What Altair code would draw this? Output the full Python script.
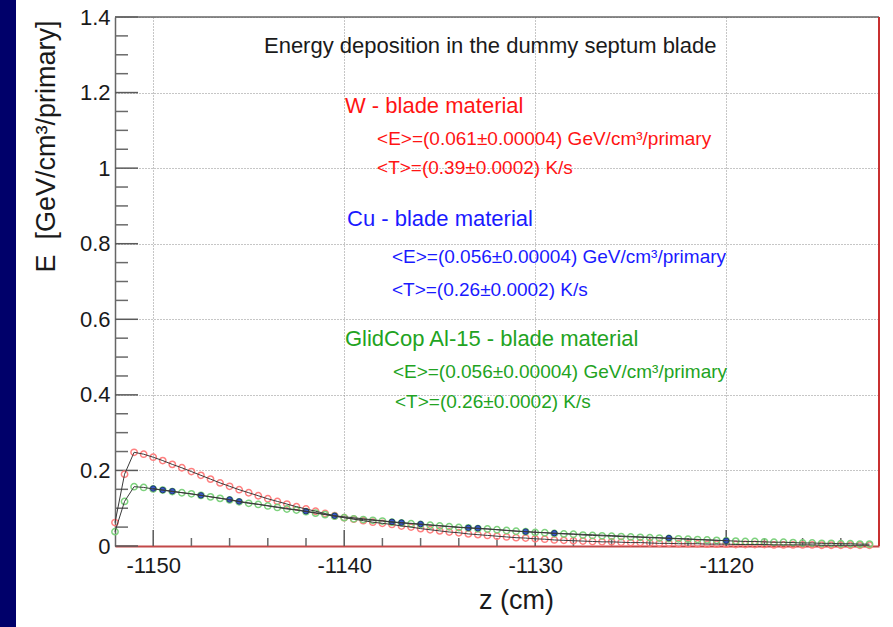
import altair as alt
import pandas as pd

# ---------------- data ----------------
z = [-1152, -1151.5, -1151, -1150.5, -1150, -1149.5, -1149, -1148.5, -1148, -1147.5,
     -1147, -1146.5, -1146, -1145.5, -1145, -1144.5, -1144, -1143.5, -1143, -1142.5,
     -1142, -1141.5, -1141, -1140.5, -1140, -1139.5, -1139, -1138.5, -1138, -1137.5,
     -1137, -1136.5, -1136, -1135.5, -1135, -1134.5, -1134, -1133.5, -1133, -1132.5,
     -1132, -1131.5, -1131, -1130.5, -1130, -1129.5, -1129, -1128.5, -1128, -1127.5,
     -1127, -1126.5, -1126, -1125.5, -1125, -1124.5, -1124, -1123.5, -1123, -1122.5,
     -1122, -1121.5, -1121, -1120.5, -1120, -1119.5, -1119, -1118.5, -1118, -1117.5,
     -1117, -1116.5, -1116, -1115.5, -1115, -1114.5, -1114, -1113.5, -1113, -1112.5]

e_w = [0.062, 0.190, 0.248, 0.243, 0.235, 0.226, 0.216, 0.207, 0.197, 0.187,
       0.177, 0.167, 0.158, 0.149, 0.141, 0.133, 0.125, 0.118, 0.111, 0.104,
       0.098, 0.092, 0.086, 0.080, 0.075, 0.071, 0.067, 0.063, 0.060, 0.057,
       0.053, 0.050, 0.046, 0.043, 0.040, 0.037, 0.035, 0.032, 0.030, 0.028,
       0.026, 0.024, 0.022, 0.021, 0.019, 0.018, 0.016, 0.015, 0.014, 0.013,
       0.012, 0.011, 0.011, 0.010, 0.009, 0.009, 0.008, 0.007, 0.007, 0.006,
       0.006, 0.006, 0.005, 0.005, 0.005, 0.004, 0.004, 0.004, 0.004, 0.003,
       0.003, 0.003, 0.003, 0.003, 0.002, 0.002, 0.002, 0.002, 0.002, 0.002]

e_glidcop = [0.038, 0.118, 0.157, 0.155, 0.151, 0.148, 0.144, 0.141, 0.138, 0.134,
             0.130, 0.126, 0.122, 0.117, 0.113, 0.110, 0.106, 0.102, 0.098, 0.095,
             0.091, 0.087, 0.083, 0.079, 0.075, 0.072, 0.070, 0.068, 0.066, 0.063,
             0.061, 0.059, 0.057, 0.055, 0.053, 0.051, 0.049, 0.048, 0.046, 0.045,
             0.043, 0.041, 0.039, 0.038, 0.036, 0.035, 0.033, 0.032, 0.031, 0.029,
             0.028, 0.027, 0.026, 0.025, 0.024, 0.023, 0.022, 0.021, 0.020, 0.019,
             0.018, 0.017, 0.016, 0.015, 0.014, 0.013, 0.012, 0.012, 0.011, 0.010,
             0.010, 0.009, 0.008, 0.008, 0.007, 0.007, 0.006, 0.006, 0.005, 0.005]

z_cu = [-1150, -1149.5, -1149, -1147.5, -1146, -1145.5, -1142, -1140.5, -1137.5,
        -1137, -1136, -1133.5, -1133, -1130.5, -1129, -1123, -1120]
e_cu = [0.152, 0.148, 0.145, 0.134, 0.123, 0.118, 0.092, 0.080, 0.064,
        0.062, 0.058, 0.048, 0.047, 0.038, 0.034, 0.021, 0.014]

x_major = [-1150, -1140, -1130, -1120]
x_minor = [-1148, -1146, -1144, -1142, -1138, -1136, -1134, -1132,
           -1128, -1126, -1124, -1122, -1118, -1116, -1114]
y_major = [0, 0.2, 0.4, 0.6, 0.8, 1, 1.2, 1.4]
y_minor = [0.05, 0.1, 0.15, 0.25, 0.3, 0.35, 0.45, 0.5, 0.55, 0.65, 0.7, 0.75,
           0.85, 0.9, 0.95, 1.05, 1.1, 1.15, 1.25, 1.3, 1.35]

title_text = ["Energy deposition in the dummy septum blade"]
title_z = [-1144.2]
title_e = [1.322]

head_text = ["W - blade material", "Cu - blade material", "GlidCop Al-15 - blade material"]
head_z = [-1139.96, -1139.85, -1139.96]
head_e = [1.165, 0.865, 0.548]
head_col = ["#ff1414", "#1a1aff", "#22a322"]

info_text = ["<E>=(0.061\u00b10.00004) GeV/cm\u00b3/primary", "<T>=(0.39\u00b10.0002) K/s",
             "<E>=(0.056\u00b10.00004) GeV/cm\u00b3/primary", "<T>=(0.26\u00b10.0002) K/s",
             "<E>=(0.056\u00b10.00004) GeV/cm\u00b3/primary", "<T>=(0.26\u00b10.0002) K/s"]
info_z = [-1138.28, -1138.28, -1137.5, -1137.5, -1137.45, -1137.34]
info_e = [1.077, 1.000, 0.765, 0.6775, 0.4605, 0.381]
info_col = ["#ff1414", "#ff1414", "#1a1aff", "#1a1aff", "#22a322", "#22a322"]

# ---------------- chart ----------------
FONT = "Liberation Sans"
W, H = 764, 529
TXT = "#1a1a1a"

xscale = alt.Scale(domain=[-1152, -1112], nice=False, zero=False)
yscale = alt.Scale(domain=[0, 1.4], nice=False, zero=True)

xaxis = alt.Axis(values=x_major, title="z (cm)", labelExpr="'' + datum.value",
                 ticks=False, domainColor="#c24848", domainWidth=2,
                 grid=True, gridDash=[1, 2], gridColor="#8c8c8c", gridWidth=1,
                 labelFont=FONT, labelFontSize=22, labelColor=TXT, labelPadding=9,
                 labelOverlap=False, labelFlush=False,
                 titleFont=FONT, titleFontSize=27, titleFontWeight="normal", titleColor=TXT,
                 titleAlign="center", titleBaseline="alphabetic", titleX=401, titleY=62)
yaxis = alt.Axis(values=y_major, title="E\u00a0 [GeV/cm\u00b3/primary]", labelExpr="'' + datum.value",
                 ticks=False, domainColor="#666666", domainWidth=1.5,
                 grid=True, gridDash=[1, 2], gridColor="#8c8c8c", gridWidth=1,
                 labelFont=FONT, labelFontSize=22, labelColor=TXT, labelPadding=5,
                 labelOverlap=False,
                 titleFont=FONT, titleFontSize=27, titleFontWeight="normal", titleColor=TXT,
                 titleAngle=270, titleAlign="right", titleBaseline="alphabetic",
                 titleX=-61, titleY=3)

X = alt.X("z:Q", scale=xscale, axis=xaxis)
Y = alt.Y("e:Q", scale=yscale, axis=yaxis)

df_w = pd.DataFrame({"z": z, "e": e_w})
df_g = pd.DataFrame({"z": z, "e": e_glidcop})
df_c = pd.DataFrame({"z": z_cu, "e": e_cu})
one = pd.DataFrame({"a": [0]})

navy = alt.Chart(one).mark_rect(color="#00006a", clip=False).encode(
    x=alt.value(-115), x2=alt.value(-99), y=alt.value(-17), y2=alt.value(H + 81))

xt_major = alt.Chart(pd.DataFrame({"z": x_major})).mark_rule(color="#5a5a5a", strokeWidth=1.5).encode(
    x=X, y=alt.value(H), y2=alt.value(H - 16))
xt_minor = alt.Chart(pd.DataFrame({"z": x_minor})).mark_rule(color="#6a6a6a", strokeWidth=1.5).encode(
    x=X, y=alt.value(H), y2=alt.value(H - 8))
yt_major = alt.Chart(pd.DataFrame({"e": y_major})).mark_rule(color="#5a5a5a", strokeWidth=1.5).encode(
    y=Y, x=alt.value(0), x2=alt.value(23))
yt_minor = alt.Chart(pd.DataFrame({"e": y_minor})).mark_rule(color="#6a6a6a", strokeWidth=1.5).encode(
    y=Y, x=alt.value(0), x2=alt.value(13))

def pts(df, color, filled=False, stroke=None, size=40):
    kw = dict(shape="circle", size=size, filled=filled, strokeWidth=1.5, color=color, opacity=0.95)
    if stroke:
        kw["stroke"] = stroke
        kw["strokeWidth"] = 1
    return alt.Chart(df).mark_point(**kw).encode(x=X, y=Y)

def line(df):
    return alt.Chart(df).mark_line(color="#3a3a3a", strokeWidth=1).encode(x=X, y=Y, order="z:Q")

red_pts = pts(df_w, "#ff7a7a")
green_pts = pts(df_g, "#78d078")
blue_pts = pts(df_c, "#2f55cc", filled=True, stroke="#1a2a70", size=30)

top_frame = alt.Chart(one).mark_rule(color="#666666", strokeWidth=1.5).encode(
    x=alt.value(0), x2=alt.value(W), y=alt.value(0))
right_frame = alt.Chart(one).mark_rule(color="#c83030", strokeWidth=2).encode(
    x=alt.value(W), y=alt.value(0), y2=alt.value(H))

title_layer = alt.Chart(pd.DataFrame({"z": title_z, "e": title_e, "t": title_text})).mark_text(
    align="left", baseline="middle", font=FONT, fontSize=22, color=TXT).encode(x=X, y=Y, text="t:N")
head_layer = alt.Chart(pd.DataFrame({"z": head_z, "e": head_e, "t": head_text, "c": head_col})).mark_text(
    align="left", baseline="middle", font=FONT, fontSize=22).encode(
    x=X, y=Y, text="t:N", color=alt.Color("c:N", scale=None))
info_layer = alt.Chart(pd.DataFrame({"z": info_z, "e": info_e, "t": info_text, "c": info_col})).mark_text(
    align="left", baseline="middle", font=FONT, fontSize=19).encode(
    x=X, y=Y, text="t:N", color=alt.Color("c:N", scale=None))

chart = alt.layer(
    navy, xt_major, xt_minor, yt_major, yt_minor,
    red_pts, green_pts, blue_pts,
    line(df_w), line(df_g), line(df_c),
    top_frame, right_frame,
    title_layer, head_layer, info_layer,
).properties(
    width=W, height=H,
    autosize=alt.AutoSizeParams(type="none"),
    padding={"left": 115, "top": 17, "right": 14, "bottom": 81},
    background="white",
).configure_view(stroke=None)

chart.save("out.html", embed_options={"renderer": "svg", "actions": False})
